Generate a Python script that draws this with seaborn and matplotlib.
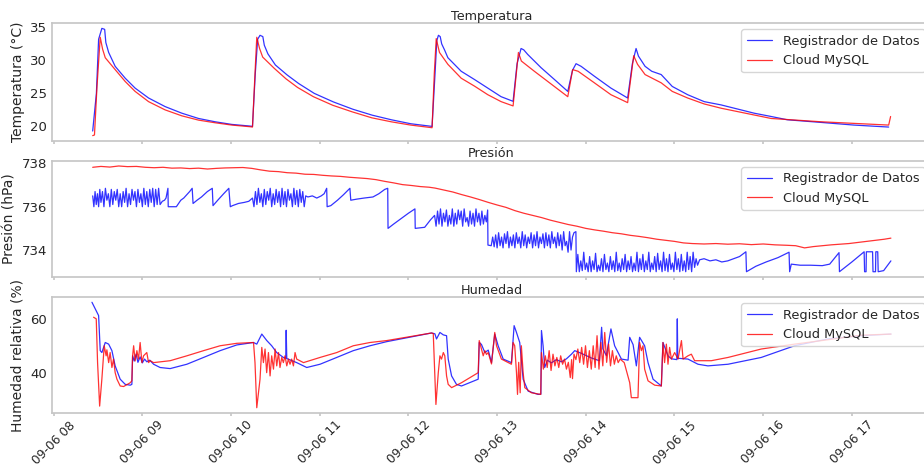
import matplotlib
matplotlib.use("Agg")
import matplotlib.pyplot as plt
import matplotlib.dates as mdates
import pandas as pd
import seaborn as sns

# ---------------- data (minutes after 2023-09-06 08:00, value) ----------------
START = "2023-09-06 08:00"
LABEL_REG = "Registrador de Datos"
LABEL_CLOUD = "Cloud MySQL"
TITLES = ["Temperatura", "Presión", "Humedad"]
YLABELS = ["Temperatura (°C)", "Presión (hPa)", "Humedad relativa (%)"]

temp_reg = [
    (26.4, 19.3), (28.9, 25.0), (30.4, 33.2), (32.6, 34.85), (34.5, 34.7), (35.3, 32.7),
    (37.2, 31.2), (41.6, 29.1), (48.4, 27.3), (55.1, 25.8), (64.2, 24.3), (75.4, 23.0),
    (86.7, 22.0), (98.0, 21.2), (109.2, 20.7), (120.5, 20.3), (132.9, 20.05), (134.5, 20.0),
    (136.4, 28.0), (138.0, 33.2), (139.6, 33.8), (141.5, 33.6), (142.5, 32.3), (144.9, 31.0),
    (150.0, 29.3), (157.9, 27.8), (165.7, 26.5), (176.3, 25.0), (189.3, 23.7), (202.4, 22.6),
    (215.5, 21.7), (228.5, 21.0), (241.6, 20.4), (256.0, 20.0),
    (258.0, 28.0), (259.2, 33.0), (260.3, 33.8), (261.5, 33.6), (262.5, 32.5), (264.4, 31.6),
    (266.7, 30.4), (275.7, 28.35), (284.7, 27.1), (293.7, 25.8), (302.7, 24.5), (310.8, 23.8),
    (313.5, 29.5), (316.2, 31.8), (318.0, 31.6), (320.7, 30.9), (329.7, 28.9), (338.8, 27.1),
    (347.8, 25.3), (351.0, 28.5), (353.4, 29.5), (356.8, 29.1), (365.8, 27.6), (377.0, 25.8),
    (388.3, 24.3), (391.5, 29.5), (394.0, 31.8), (395.6, 30.65), (400.1, 29.1), (404.6, 28.35),
    (411.0, 27.85), (418.5, 26.05), (428.9, 24.8), (440.1, 23.75), (451.6, 23.25), (473.9, 22.0),
    (485.4, 21.5), (496.4, 21.0), (519.2, 20.6), (541.4, 20.2), (564.9, 19.9),
]

temp_cloud = [
    (26.4, 18.6), (27.6, 18.7), (29.3, 26.0), (31.5, 33.5), (33.1, 31.7), (34.9, 30.4),
    (41.6, 28.6), (48.4, 26.8), (55.1, 25.3), (64.2, 23.75), (75.4, 22.5), (86.7, 21.6),
    (98.0, 20.95), (109.2, 20.55), (120.5, 20.2), (132.9, 19.95), (134.5, 19.9),
    (136.2, 28.0), (137.4, 33.5), (139.3, 31.8), (141.4, 30.5), (149.2, 28.8), (157.2, 27.2),
    (165.0, 25.9), (175.7, 24.5), (188.8, 23.2), (202.0, 22.2), (215.2, 21.3), (228.3, 20.7),
    (241.5, 20.2), (256.0, 19.8),
    (257.5, 28.0), (258.8, 33.3), (261.0, 31.2), (266.7, 29.4), (275.7, 27.3), (284.7, 26.1),
    (293.7, 24.8), (302.7, 23.75), (310.8, 23.1), (314.4, 31.2), (316.4, 29.9), (325.2, 28.35),
    (334.3, 26.8), (347.8, 24.5), (351.1, 28.6), (354.8, 28.35), (365.8, 26.6), (377.0, 24.8),
    (388.3, 23.6), (392.4, 30.7), (395.0, 29.4), (400.1, 27.85), (411.0, 26.6), (418.5, 25.3),
    (428.9, 24.3), (440.1, 23.4), (451.6, 22.75), (485.4, 21.2), (519.2, 20.7), (564.9, 20.2),
    (566.2, 21.5),
]

pres_reg = [
    (26.4, 736.5), (27.2, 736.0), (28.0, 736.7), (28.8, 736.1), (29.6, 736.6), (30.4, 736.0),
    (31.2, 736.8), (32.0, 736.2), (33.0, 736.7), (34.0, 736.0), (35.0, 736.85), (36.0, 736.3),
    (37.0, 736.6), (38.0, 736.0), (39.0, 736.8), (40.0, 736.1), (41.0, 736.7), (42.0, 736.3),
    (43.0, 736.8), (44.0, 736.0), (45.0, 736.6), (46.0, 736.0), (47.0, 736.7), (48.0, 736.2),
    (49.0, 736.85), (50.0, 736.0), (51.0, 736.6), (52.0, 736.1), (53.0, 736.8), (54.0, 736.3),
    (55.0, 736.7), (56.0, 736.0), (57.0, 736.8), (58.0, 736.2), (59.0, 736.6), (60.0, 736.0),
    (61.0, 736.85), (62.0, 736.1), (63.0, 736.7), (64.0, 736.0), (65.0, 736.8), (66.0, 736.2),
    (67.0, 736.85), (68.0, 736.0), (69.0, 736.8), (70.0, 736.1), (71.0, 736.85),
    (72.0, 736.1), (73.5, 736.25), (75.0, 736.3), (76.0, 736.4), (77.3, 736.85), (77.5, 736.0),
    (83.0, 736.0), (86.0, 736.3), (88.0, 736.4), (90.0, 736.55), (92.0, 736.7), (93.7, 736.85),
    (94.3, 736.15), (97.0, 736.3), (100.0, 736.45), (104.0, 736.7), (107.3, 736.85), (107.8, 736.05),
    (111.0, 736.3), (115.0, 736.6), (118.5, 736.85), (119.5, 736.0), (121.0, 736.05), (125.0, 736.15),
    (129.0, 736.2), (132.0, 736.25), (134.5, 736.4),
    (135.5, 736.0), (136.5, 736.7), (137.5, 736.1), (138.5, 736.85), (139.5, 736.2), (140.5, 736.6),
    (141.5, 736.0), (142.5, 736.8), (143.5, 736.1), (144.5, 736.7), (145.5, 736.3), (146.5, 736.85),
    (147.5, 736.0), (148.5, 736.6), (149.5, 736.1), (150.5, 736.8), (151.5, 736.2), (152.5, 736.7),
    (153.5, 736.0), (154.5, 736.85), (155.5, 736.1), (156.5, 736.7), (157.5, 736.0), (158.5, 736.8),
    (159.5, 736.3), (160.5, 736.6), (161.5, 736.0), (162.5, 736.85), (163.5, 736.1), (164.5, 736.75),
    (165.5, 736.0), (166.5, 736.8), (167.5, 736.2), (168.5, 736.7), (169.5, 736.0), (170.5, 736.5),
    (172.0, 736.45), (175.0, 736.5), (178.0, 736.4), (181.0, 736.5), (183.0, 736.6), (184.7, 736.85),
    (185.0, 736.0), (187.5, 736.05), (192.0, 736.3), (196.0, 736.55), (200.4, 736.85), (201.0, 736.3),
    (205.0, 736.35), (210.0, 736.4), (216.0, 736.45), (220.0, 736.6), (224.0, 736.8), (226.0, 736.85),
    (226.2, 735.0), (230.0, 735.2), (235.0, 735.45), (240.0, 735.7), (244.4, 735.9), (244.6, 735.0),
    (251.0, 735.05), (255.0, 735.4), (257.7, 735.6),
    (258.7, 735.1), (259.7, 735.8), (260.7, 735.2), (261.7, 735.9), (262.7, 735.1), (263.7, 735.7),
    (264.7, 735.3), (265.7, 735.85), (266.7, 735.1), (267.7, 735.6), (268.7, 735.2), (269.7, 735.9),
    (270.7, 735.1), (271.7, 735.7), (272.7, 735.2), (273.7, 735.85), (274.7, 735.4), (275.7, 735.8),
    (276.7, 735.1), (277.7, 735.9), (278.7, 735.3), (279.7, 735.5), (280.7, 735.1), (281.7, 735.8),
    (282.7, 735.2), (283.7, 735.7), (284.7, 735.1), (285.7, 735.9), (286.7, 735.3), (287.7, 735.7),
    (288.7, 735.15), (289.7, 735.8), (290.7, 735.2), (291.7, 735.6), (292.7, 735.3), (293.6, 735.85),
    (293.8, 734.23), (296.0, 734.2), (297.0, 734.6), (298.0, 734.15), (299.0, 734.7), (300.0, 734.1),
    (301.0, 734.8), (302.0, 734.2), (303.0, 734.6), (304.0, 734.1), (305.0, 734.75), (306.0, 734.3),
    (307.0, 734.85), (308.0, 734.1), (309.0, 734.6), (310.0, 734.2), (311.0, 734.7), (312.0, 734.1),
    (313.0, 734.8), (314.0, 734.3), (315.0, 734.6), (316.0, 734.1), (317.0, 734.85), (318.0, 734.2),
    (319.0, 734.7), (320.0, 734.1), (321.0, 734.6), (322.0, 734.3), (323.0, 734.8), (324.0, 734.1),
    (325.0, 734.7), (326.0, 734.2), (327.0, 734.85), (328.0, 734.1), (329.0, 734.6), (330.0, 734.3),
    (331.0, 734.75), (332.0, 734.1), (333.0, 734.8), (334.0, 734.2), (335.0, 734.7), (336.0, 734.1),
    (337.0, 734.85), (338.0, 734.3), (339.0, 734.6), (340.0, 734.1), (341.0, 734.8), (342.0, 734.2),
    (343.0, 734.7), (344.0, 734.0), (345.0, 734.85), (346.0, 734.2), (347.0, 734.4), (348.0, 733.9),
    (349.0, 734.85), (350.0, 734.0), (351.0, 734.6), (352.0, 734.8), (353.3, 734.85), (353.6, 733.0),
    (354.6, 733.8), (355.6, 733.0), (356.6, 733.5), (357.6, 733.05), (358.6, 733.9), (359.6, 733.1),
    (360.6, 733.4), (361.6, 733.0), (362.6, 733.7), (363.6, 733.0), (364.6, 733.5), (365.6, 733.1),
    (366.6, 733.85), (367.6, 733.0), (368.6, 733.3), (369.6, 733.05), (370.6, 733.6), (371.6, 733.0),
    (372.6, 733.8), (373.6, 733.1), (374.6, 733.4), (375.6, 733.0), (376.6, 733.7), (377.6, 733.1),
    (378.6, 733.5), (379.6, 733.0), (380.6, 733.9), (381.6, 733.05), (382.6, 733.4), (383.6, 733.0),
    (384.6, 733.6), (385.6, 733.1), (386.6, 733.8), (387.6, 733.0), (388.6, 733.5), (389.6, 733.1),
    (390.6, 733.7), (391.6, 733.0), (392.6, 733.4), (393.6, 733.05), (394.6, 733.9), (395.6, 733.0),
    (396.6, 733.6), (397.6, 733.1), (398.6, 733.8), (399.6, 733.0), (400.6, 733.5), (401.6, 733.1),
    (402.6, 733.9), (403.6, 733.0), (404.6, 733.4), (405.6, 733.1), (406.6, 733.7), (407.6, 733.0),
    (408.6, 733.85), (409.6, 733.1), (410.6, 733.5), (411.6, 733.0), (412.6, 733.9), (413.6, 733.05),
    (414.6, 733.6), (415.6, 733.0), (416.6, 733.8), (417.6, 733.1), (418.6, 733.4), (419.6, 733.0),
    (420.6, 733.9), (421.6, 733.1), (422.6, 733.6), (423.6, 733.0), (424.6, 733.8), (425.6, 733.05),
    (426.6, 733.5), (427.6, 733.0), (428.6, 733.9), (429.6, 733.1), (430.6, 733.7), (431.6, 733.0),
    (432.6, 733.9), (433.6, 733.2), (434.6, 733.6), (435.6, 733.3), (437.0, 733.55),
    (440.0, 733.6), (444.0, 733.5), (448.0, 733.55), (452.0, 733.45), (456.0, 733.5), (460.0, 733.6),
    (464.0, 733.7), (468.3, 733.92), (468.7, 733.0), (475.0, 733.25), (482.0, 733.45), (490.0, 733.65),
    (497.5, 733.9), (497.9, 733.0), (499.0, 733.35), (505.0, 733.3), (512.0, 733.3), (520.0, 733.28),
    (525.0, 733.35), (531.3, 733.88), (531.6, 733.0), (540.0, 733.45), (548.3, 733.92), (548.6, 733.0),
    (549.6, 733.0), (549.8, 733.92), (554.0, 733.92), (554.3, 733.0), (556.0, 733.0), (556.2, 733.92),
    (557.5, 733.92), (557.8, 733.0), (561.5, 733.05), (566.4, 733.5),
]

pres_cloud = [
    (26.4, 737.82), (32, 737.86), (38, 737.83), (44, 737.88), (50, 737.85), (56, 737.86),
    (62, 737.82), (68, 737.80), (74, 737.82), (80, 737.78), (86, 737.79), (92, 737.76),
    (98, 737.78), (104, 737.74), (110, 737.77), (116, 737.79), (122, 737.80), (128, 737.81),
    (134, 737.77), (140, 737.70), (146, 737.64), (152, 737.62), (158, 737.57), (164, 737.55),
    (170, 737.50), (176, 737.49), (182, 737.45), (188, 737.42), (194, 737.40), (200, 737.36),
    (206, 737.33), (212, 737.30), (218, 737.25), (224, 737.17), (230, 737.10), (236, 737.02),
    (242, 736.98), (248, 736.93), (254, 736.90), (258, 736.86), (264, 736.77), (270, 736.68),
    (276, 736.56), (282, 736.45), (288, 736.33), (294, 736.20), (300, 736.08), (306, 735.97),
    (312, 735.82), (318, 735.70), (324, 735.60), (330, 735.50), (336, 735.38), (342, 735.28),
    (348, 735.18), (354, 735.10), (360, 735.00), (366, 734.93), (372, 734.87), (378, 734.80),
    (384, 734.75), (390, 734.68), (396, 734.63), (402, 734.57), (408, 734.50), (414, 734.45),
    (420, 734.40), (426, 734.33), (432, 734.30), (440, 734.28), (448, 734.30), (456, 734.27),
    (464, 734.29), (472, 734.25), (480, 734.28), (488, 734.24), (496, 734.22), (502, 734.20),
    (508, 734.10), (514, 734.16), (520, 734.20), (526, 734.24), (532, 734.27), (538, 734.30),
    (544, 734.35), (550, 734.40), (556, 734.45), (562, 734.50), (566.4, 734.55),
]

hum_reg = [
    (25.9, 66.1), (30.4, 61.2), (31.5, 48.3), (32.6, 47.6), (34.9, 51.3), (37.2, 50.7),
    (39.4, 48.3), (41.6, 42.7), (45.0, 37.8), (48.4, 35.9), (51.8, 35.6), (52.9, 35.9),
    (53.4, 46.4), (54.5, 44.5), (55.8, 47.0), (57.0, 44.0), (58.5, 46.0), (60.0, 43.8),
    (61.5, 45.2), (63.0, 44.2), (65.0, 44.8), (67.6, 43.3), (72.0, 42.1), (78.8, 41.7),
    (90.1, 43.3), (101.4, 45.8), (112.6, 48.3), (123.9, 50.4), (135.2, 51.3), (137.4, 50.7),
    (140.8, 54.4), (144.2, 52.0), (147.5, 50.1), (150.9, 47.6), (155.4, 45.8), (157.0, 45.5),
    (157.3, 55.8), (157.7, 45.4), (164.4, 43.9), (171.2, 42.1), (180.2, 43.3), (191.5, 45.8),
    (202.7, 48.3), (214.0, 50.1), (225.2, 51.6), (255.6, 54.8), (257.9, 54.5), (259.0, 52.6),
    (261.3, 55.0), (263.6, 54.1), (265.8, 53.8), (266.9, 45.2), (269.2, 39.0), (272.5, 35.9),
    (275.9, 35.3), (287.2, 37.8), (287.9, 51.3), (289.4, 50.6), (291.7, 47.6), (294.0, 48.5),
    (296.2, 43.9), (298.4, 54.4), (300.7, 50.1), (304.1, 45.2), (309.7, 43.9), (311.5, 57.5),
    (313.1, 55.0), (315.3, 51.3), (317.6, 37.8), (321.0, 33.4), (327.7, 32.2), (329.6, 32.3),
    (330.0, 55.7), (331.1, 50.1), (332.2, 42.1), (334.0, 44.8), (336.7, 43.8), (340.1, 45.0),
    (343.5, 44.2), (346.9, 45.3), (350.3, 47.0), (352.5, 48.3), (357.0, 47.3), (363.8, 45.6),
    (369.2, 44.6), (370.7, 56.9), (371.5, 49.0), (373.9, 46.5), (377.0, 56.3), (379.5, 50.1),
    (384.1, 45.2), (388.6, 44.8), (389.7, 53.2), (392.0, 50.5), (394.2, 42.7), (396.4, 53.2),
    (399.8, 50.1), (402.1, 43.9), (405.5, 37.8), (411.1, 35.3), (412.2, 51.3), (415.6, 46.4),
    (417.9, 45.3), (421.6, 45.0), (421.9, 60.0), (422.2, 45.5), (429.1, 45.2), (435.9, 43.3),
    (442.6, 42.7), (456.2, 43.3), (478.7, 45.8), (501.2, 50.1), (523.7, 52.6), (546.2, 53.8),
    (566.5, 54.4),
]

hum_cloud = [
    (27.0, 60.6), (28.8, 60.0), (29.7, 43.9), (31.1, 27.9), (32.6, 37.8), (34.2, 50.1),
    (35.5, 46.4), (36.0, 48.6), (37.2, 43.9), (38.2, 47.6), (39.4, 42.1), (40.5, 45.2),
    (41.6, 40.2), (42.8, 37.8), (45.0, 35.3), (47.3, 35.1), (51.8, 36.5), (52.9, 37.2),
    (53.4, 46.4), (54.1, 50.1), (55.1, 44.5), (56.3, 48.3), (57.4, 45.2), (58.5, 51.3),
    (59.7, 43.9), (60.8, 46.4), (63.0, 47.6), (64.2, 43.9), (65.3, 44.6), (67.6, 43.9),
    (78.8, 44.6), (90.1, 46.4), (101.4, 48.3), (112.6, 50.1), (123.9, 51.0), (135.2, 51.3),
    (136.2, 43.9), (137.4, 27.3), (139.6, 37.8), (140.8, 49.5), (141.9, 43.9), (143.0, 48.9),
    (144.1, 40.2), (145.3, 47.6), (146.4, 39.0), (147.5, 46.4), (148.7, 41.5), (149.8, 48.9),
    (150.9, 42.7), (152.1, 47.6), (153.1, 42.1), (154.3, 45.8), (155.4, 43.9), (156.5, 46.4),
    (157.7, 42.7), (158.8, 45.2), (159.9, 43.3), (161.0, 45.2), (162.2, 42.7), (163.3, 47.6),
    (164.4, 45.2), (169.0, 43.9), (180.2, 45.8), (191.5, 47.6), (202.7, 50.1), (214.0, 51.3),
    (225.2, 52.0), (255.6, 54.8), (256.8, 54.6), (257.9, 39.0), (258.6, 28.5), (260.2, 40.2),
    (261.3, 46.4), (262.4, 45.2), (263.6, 47.6), (264.6, 46.4), (265.8, 39.0), (266.9, 35.9),
    (269.2, 34.7), (275.9, 36.5), (287.2, 40.2), (287.9, 52.0), (289.4, 48.9), (290.6, 46.4),
    (291.7, 48.3), (292.8, 46.9), (294.0, 47.6), (296.2, 43.4), (298.4, 55.0), (299.6, 50.1),
    (302.9, 45.2), (309.7, 43.3), (310.8, 51.3), (311.9, 50.1), (313.1, 40.2), (313.8, 32.2),
    (314.6, 44.0), (315.6, 32.8), (316.4, 50.1), (317.6, 40.2), (318.7, 34.7), (323.2, 32.8),
    (329.5, 32.2), (330.0, 47.6), (331.3, 41.5), (332.6, 46.4), (333.9, 42.1), (335.2, 48.3),
    (336.5, 41.0), (337.8, 47.0), (339.1, 42.7), (340.4, 45.8), (341.7, 42.1), (343.0, 46.4),
    (344.3, 43.3), (345.6, 45.2), (346.9, 41.5), (348.2, 44.0), (349.5, 38.4), (350.4, 45.0),
    (351.0, 38.0), (352.0, 47.0), (353.3, 45.0), (354.6, 48.9), (355.9, 43.9), (357.2, 49.5),
    (358.5, 43.3), (359.8, 50.1), (361.1, 42.1), (362.4, 48.3), (363.7, 41.5), (365.0, 50.1),
    (366.3, 42.1), (367.6, 53.8), (368.9, 41.5), (370.2, 51.3), (371.5, 42.7), (372.8, 55.0),
    (374.1, 44.0), (375.4, 50.7), (376.7, 42.7), (378.0, 48.3), (379.3, 43.3), (380.6, 46.4),
    (381.9, 43.9), (383.2, 45.2), (384.5, 44.6), (386.0, 43.9), (389.7, 36.5), (390.8, 31.0),
    (395.3, 31.0), (396.4, 51.3), (397.6, 48.3), (398.7, 50.1), (399.8, 41.5), (402.1, 37.2),
    (406.6, 35.6), (411.1, 35.3), (412.2, 51.3), (413.3, 43.9), (414.5, 50.7), (415.6, 43.3),
    (416.7, 49.5), (417.9, 45.2), (420.1, 47.6), (422.4, 45.2), (424.7, 52.0), (425.8, 45.2),
    (429.1, 46.4), (431.4, 47.0), (433.6, 44.6), (444.9, 44.6), (456.2, 45.8), (478.7, 48.9),
    (501.2, 50.7), (523.7, 52.3), (546.2, 54.0), (566.5, 54.4),
]


def frame(pairs):
    base = pd.Timestamp(START)
    df = pd.DataFrame(pairs, columns=["min", "val"])
    df["time"] = base + pd.to_timedelta(df["min"], unit="m")
    return df


# ---------------- figure ----------------
sns.set_theme(style="white")
plt.rcParams["font.family"] = ["DejaVu Sans"]

W, H = 924, 466
fig = plt.figure(figsize=(W / 100, H / 100), dpi=100)
left = 52 / W
width = 879 / W
boxes = [(23, 141), (160.7, 277), (297, 413)]
axes = []
for i, (top, bot) in enumerate(boxes):
    rect = [left, (H - bot) / H, width, (bot - top) / H]
    ax = fig.add_axes(rect, sharex=axes[0] if axes else None)
    axes.append(ax)

series = [(temp_reg, temp_cloud), (pres_reg, pres_cloud), (hum_reg, hum_cloud)]
for ax, (reg, cloud), title, ylab in zip(axes, series, TITLES, YLABELS):
    d1 = frame(reg)
    d2 = frame(cloud)
    sns.lineplot(data=d1, x="time", y="val", ax=ax, color="blue", lw=0.9, alpha=0.8,
                 label=LABEL_REG, estimator=None, sort=False)
    sns.lineplot(data=d2, x="time", y="val", ax=ax, color="red", lw=0.9, alpha=0.8,
                 label=LABEL_CLOUD, estimator=None, sort=False)
    ax.set_title(title, fontsize=9.2, pad=2.5)
    ax.set_ylabel(ylab, fontsize=10)
    ax.set_xlabel("")
    ax.legend(loc="upper right", fontsize=9.3, framealpha=0.8)
    for sp in ax.spines.values():
        sp.set_color("0.78")
        sp.set_linewidth(1.25)
    ax.tick_params(axis="x", which="major", length=2.5, color="0.78", direction="out",
                   labelsize=8.8, pad=1.5, bottom=True)
    ax.tick_params(axis="y", length=0, labelsize=9.5, pad=3.5)

axes[0].set_yticks([20, 25, 30, 35])
axes[1].set_yticks([734, 736, 738])
axes[2].set_yticks([40, 60])

axes[2].xaxis.set_major_locator(mdates.HourLocator())
axes[2].xaxis.set_major_formatter(mdates.DateFormatter("%m-%d %H"))
for ax in axes[:2]:
    plt.setp(ax.get_xticklabels(), visible=False)
plt.setp(axes[2].get_xticklabels(), rotation=45, ha="center")

fig.savefig("out.png", dpi=100)
